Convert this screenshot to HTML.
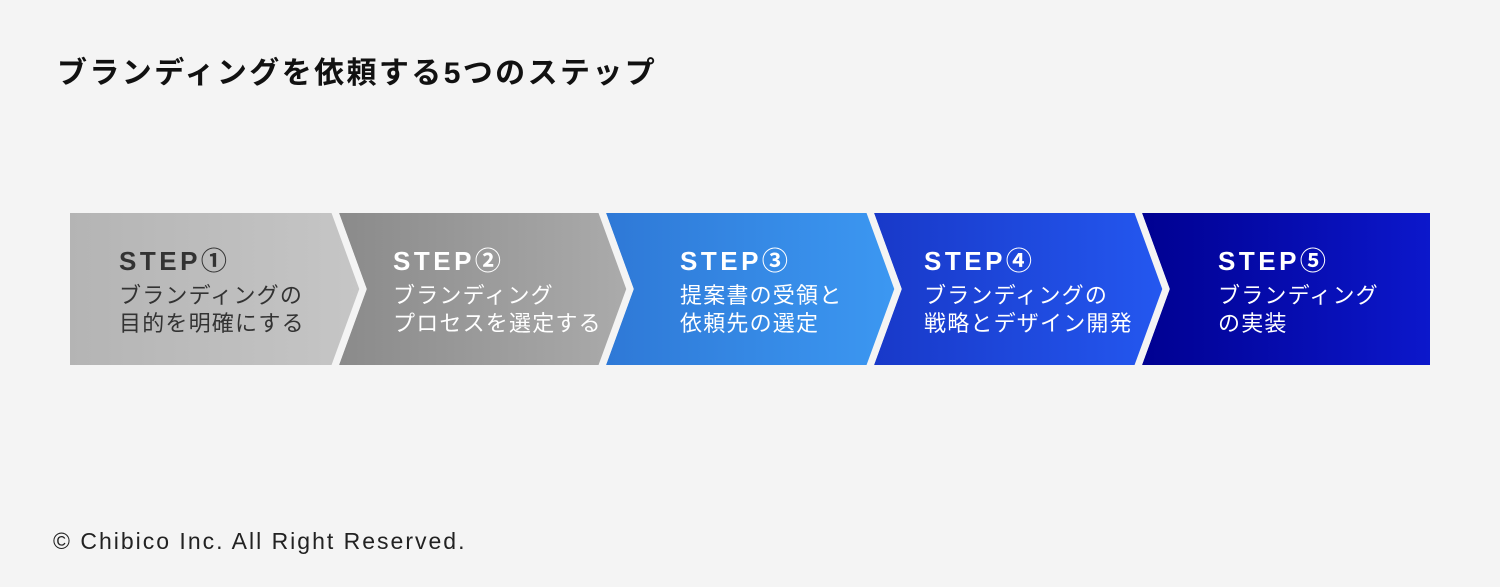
<!DOCTYPE html>
<html><head><meta charset="utf-8"><style>
body{margin:0;width:1500px;height:587px;background:#f4f4f4;overflow:hidden;font-family:"Liberation Sans","Noto Sans CJK JP",sans-serif}
</style></head><body>
<svg width="1500" height="587" xmlns="http://www.w3.org/2000/svg" style="position:absolute;left:0;top:0">
<defs>
<linearGradient id="g1" x1="0" x2="1"><stop offset="0" stop-color="#b4b4b4"/><stop offset="1" stop-color="#c6c6c6"/></linearGradient>
<linearGradient id="g2" x1="0" x2="1"><stop offset="0" stop-color="#8a8a8a"/><stop offset="1" stop-color="#ababab"/></linearGradient>
<linearGradient id="g3" x1="0" x2="1"><stop offset="0" stop-color="#2e78d6"/><stop offset="1" stop-color="#3c98f2"/></linearGradient>
<linearGradient id="g4" x1="0" x2="1"><stop offset="0" stop-color="#1838c8"/><stop offset="1" stop-color="#2458f0"/></linearGradient>
<linearGradient id="g5" x1="0" x2="1"><stop offset="0" stop-color="#000090"/><stop offset="1" stop-color="#0c18cc"/></linearGradient>
</defs>
<text x="57" y="83" font-size="30" font-weight="bold" letter-spacing="2.4" fill="#111" font-family="Liberation Sans,Noto Sans CJK JP,sans-serif">ブランディングを依頼する5つのステップ</text>
<g stroke="#f4f4f4" stroke-width="7" stroke-linejoin="miter">
<polygon points="1137,209.5 1433.5,209.5 1433.5,368.5 1137,368.5 1166,289" fill="url(#g5)"/>
<polygon points="869,209.5 1137,209.5 1166,289 1137,368.5 869,368.5 898,289" fill="url(#g4)"/>
<polygon points="601,209.5 869,209.5 898,289 869,368.5 601,368.5 630,289" fill="url(#g3)"/>
<polygon points="334,209.5 601,209.5 630,289 601,368.5 334,368.5 363,289" fill="url(#g2)"/>
<polygon points="66.5,209.5 334,209.5 363,289 334,368.5 66.5,368.5" fill="url(#g1)"/>
</g>
<g font-family="Liberation Sans,Noto Sans CJK JP,sans-serif">
<g font-size="26" font-weight="bold" letter-spacing="3.5">
<text x="119" y="270" fill="#333">STEP①</text>
<text x="393" y="270" fill="#fff">STEP②</text>
<text x="680" y="270" fill="#fff">STEP③</text>
<text x="924" y="270" fill="#fff">STEP④</text>
<text x="1218" y="270" fill="#fff">STEP⑤</text>
</g>
<g font-size="22" letter-spacing="1.2">
<text x="119" y="303" fill="#333">ブランディングの</text><text x="119" y="331" fill="#333">目的を明確にする</text>
<text x="393" y="303" fill="#fff">ブランディング</text><text x="393" y="331" fill="#fff">プロセスを選定する</text>
<text x="680" y="303" fill="#fff">提案書の受領と</text><text x="680" y="331" fill="#fff">依頼先の選定</text>
<text x="924" y="303" fill="#fff">ブランディングの</text><text x="924" y="331" fill="#fff">戦略とデザイン開発</text>
<text x="1218" y="303" fill="#fff">ブランディング</text><text x="1218" y="331" fill="#fff">の実装</text>
</g>
<text x="53" y="549" font-size="23" fill="#222" letter-spacing="2">© Chibico Inc. All Right Reserved.</text>
</g>
</svg>
</body></html>
